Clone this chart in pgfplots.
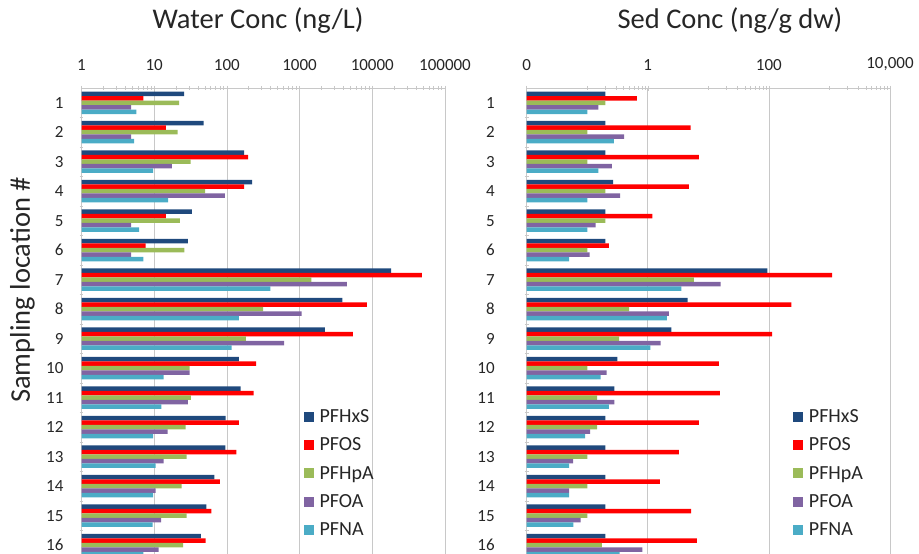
\documentclass[border=0pt]{standalone}
\usepackage{fontspec}
\setmainfont{Carlito}
\usepackage{pgfplots}
\usepackage{pgfplotstable}
\pgfplotsset{compat=1.18}
\definecolor{cHx}{HTML}{1F497D}
\definecolor{cOS}{HTML}{FF0000}
\definecolor{cHp}{HTML}{9BBB59}
\definecolor{cOA}{HTML}{8064A2}
\definecolor{cNA}{HTML}{4BACC6}
\definecolor{gridc}{HTML}{C8C8C8}

\pgfplotstableread{
loc PFHxS PFOS PFHpA PFOA PFNA
1 25.8 7.1 22 4.8 5.7
2 48 14.5 21 4.8 5.3
3 173 196 31.6 17.5 9.7
4 222 173 50 94 15.6
5 33 14.5 22.5 4.8 6.2
6 29 7.6 26 4.8 7.1
7 18200 48000 1450 4480 397
8 3870 8430 315 1070 146
9 2230 5420 182 611 116
10 146 252 30.6 30.6 13.5
11 155 234 31.9 29 12.6
12 96 146 27 15.3 9.7
13 95 135 28 13.5 10.5
14 67 80 23.8 10.5 9.7
15 52 61 27.9 12.5 9.5
16 44 51 25 11.5 7.1
}\water

\pgfplotstableread{
loc PFHxS PFOS PFHpA PFOA PFNA
1 0.2 0.66 0.2 0.153 0.1
2 0.2 5.1 0.1 0.405 0.274
3 0.2 6.98 0.1 0.254 0.153
4 0.267 4.78 0.2 0.348 0.1
5 0.2 1.19 0.2 0.137 0.1
6 0.2 0.227 0.1 0.109 0.05
7 94.4 1110 5.77 15.9 3.57
8 4.55 235 0.49 2.23 2.07
9 2.45 113 0.336 1.63 1.1
10 0.315 14.9 0.1 0.208 0.166
11 0.28 15.5 0.146 0.28 0.227
12 0.2 7 0.146 0.112 0.092
13 0.2 3.27 0.1 0.0586 0.05
14 0.2 1.59 0.1 0.05 0.05
15 0.2 5.2 0.1 0.078 0.059
16 0.2 6.47 0.174 0.815 0.344
}\sed

\pgfplotsset{panel/.style={
 scale only axis, width=363.5pt, height=466pt,
 xbar=0pt, bar width=4.5pt,
 y dir=reverse, ymin=0.5, ymax=16.3,
 ytick={1,...,16}, minor ytick={1.5,2.5,3.5,4.5,5.5,6.5,7.5,8.5,9.5,10.5,11.5,12.5,13.5,14.5,15.5},
 axis x line*=top, axis y line*=left,
 axis line style={gridc, line width=0.8pt, -},
 tick align=center,
 major tick length=5pt, minor tick length=4pt,
 every tick/.style={gridc, line width=0.6pt},
 major y tick style={draw=none},
 xmajorgrids, major grid style={gridc, line width=0.8pt},
 tick label style={font=\fontsize{17}{17}\selectfont, text=black!85},
 xticklabel style={yshift=11pt},
 yticklabel style={xshift=-12pt, anchor=east},
 legend style={draw=none, fill=none, font=\fontsize{20}{22}\selectfont, anchor=north west, row sep=10pt, legend cell align=left, text=black!85,
   /tikz/every odd column/.append style={column sep=3.5pt}},
 legend image code/.code={\fill[##1] (0pt,-5pt) rectangle (10pt,5pt);},
 title style={font=\fontsize{28.5}{28.5}\selectfont, anchor=base, text=black!85},
}}

\begin{document}
\begin{tikzpicture}
\path[use as bounding box] (0pt,-554pt) rectangle (919pt,0pt);
\begin{axis}[xmode=log, log origin x=infty, /pgf/number format/assume math mode=true,
  panel, at={(81.5pt,-88pt)}, anchor=north west,
  xmin=1, xmax=100000,
  xtick={1,10,100,1000,10000,100000},
  xticklabels={1,10,100,1000,10000,100000},
  minor xtick={2,3,4,5,6,7,8,9,20,30,40,50,60,70,80,90,200,300,400,500,600,700,800,900,2000,3000,4000,5000,6000,7000,8000,9000,20000,30000,40000,50000,60000,70000,80000,90000},
  title={Water Conc (ng/L)},
  title style={at={(axis description cs:0.4856,1)}, yshift=53.5pt},
  ylabel={Sampling location \#},
  ylabel style={at={(axis description cs:-0.1417,0.5665)}, anchor=base, font=\fontsize{28.5}{28.5}\selectfont, text=black!85},
  legend style={at={(axis description cs:0.6035,0.3195)}},
]
\addplot[fill=cHx, draw=none, bar shift=9pt] table[x=PFHxS, y=loc] {\water};
\addplot[fill=cOS, draw=none, bar shift=4.5pt] table[x=PFOS, y=loc] {\water};
\addplot[fill=cHp, draw=none, bar shift=0pt] table[x=PFHpA, y=loc] {\water};
\addplot[fill=cOA, draw=none, bar shift=-4.5pt] table[x=PFOA, y=loc] {\water};
\addplot[fill=cNA, draw=none, bar shift=-9pt] table[x=PFNA, y=loc] {\water};
\legend{PFHxS,PFOS,PFHpA,PFOA,PFNA}
\end{axis}
\begin{axis}[xmode=log, log origin x=infty, /pgf/number format/assume math mode=true,
  panel, at={(526.7pt,-88pt)}, anchor=north west,
  width=363.3pt,
  xmin=0.01, xmax=10000,
  xtick={0.01,1,100,10000},
  xticklabels={0,1,100,{10,000}},
  minor xtick={0.1,0.2,0.3,0.4,0.5,0.6,0.7,0.8,0.9,10,20,30,40,50,60,70,80,90,1000,2000,3000,4000,5000,6000,7000,8000,9000},
  title={Sed Conc (ng/g dw)},
  title style={at={(axis description cs:0.5596,1)}, yshift=53.5pt},
  yticklabel style={xshift=-14pt},
  legend style={at={(axis description cs:0.7255,0.3195)}},
]
\addplot[fill=cHx, draw=none, bar shift=9pt] table[x=PFHxS, y=loc] {\sed};
\addplot[fill=cOS, draw=none, bar shift=4.5pt] table[x=PFOS, y=loc] {\sed};
\addplot[fill=cHp, draw=none, bar shift=0pt] table[x=PFHpA, y=loc] {\sed};
\addplot[fill=cOA, draw=none, bar shift=-4.5pt] table[x=PFOA, y=loc] {\sed};
\addplot[fill=cNA, draw=none, bar shift=-9pt] table[x=PFNA, y=loc] {\sed};
\legend{PFHxS,PFOS,PFHpA,PFOA,PFNA}
\end{axis}
\end{tikzpicture}
\end{document}
